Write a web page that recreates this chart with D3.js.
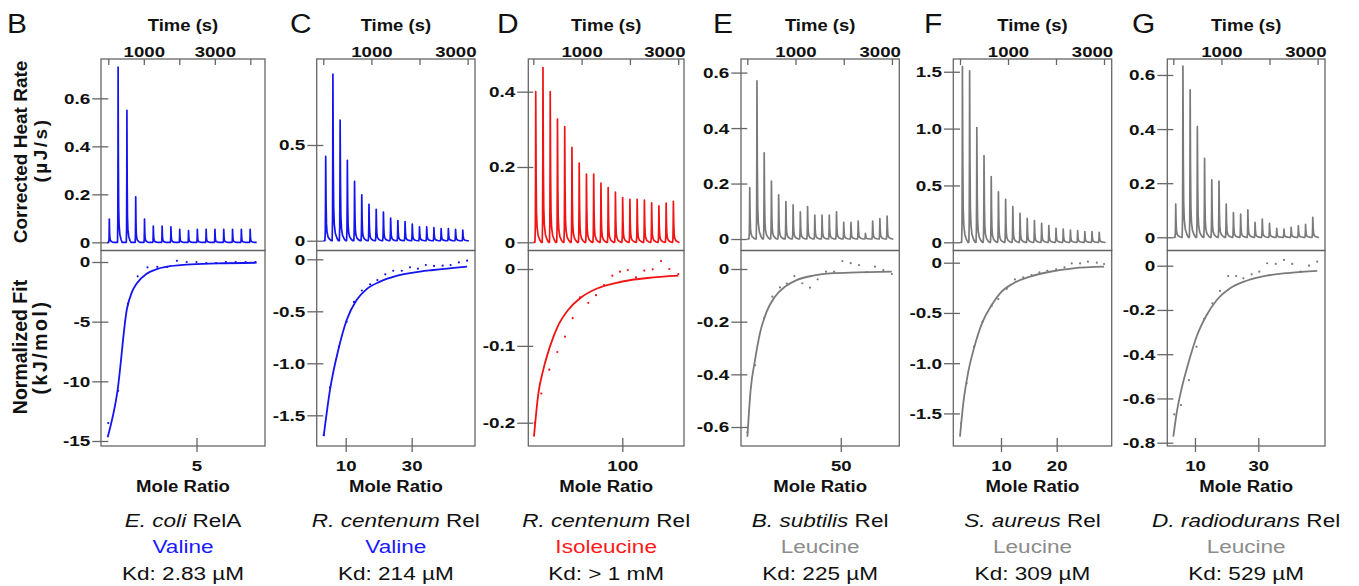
<!DOCTYPE html>
<html>
<head>
<meta charset="utf-8">
<script src="https://cdnjs.cloudflare.com/ajax/libs/d3/7.8.5/d3.min.js"></script>
<title>ITC panels</title>
<style>
  body{ margin:0; background:#fff; }
  svg text{ font-family:"Liberation Sans", Arial, sans-serif; fill:#111; }
</style>
</head>
<body>
<script>
// ---- data ----
var letters  = ["B","C","D","E","F","G"];
var species  = ["E. coli","R. centenum","R. centenum","B. subtilis","S. aureus","D. radiodurans"];
var enzymes  = ["RelA","Rel","Rel","Rel","Rel","Rel"];
var ligands  = ["Valine","Valine","Isoleucine","Leucine","Leucine","Leucine"];
var kds      = ["Kd: 2.83 µM","Kd: 214 µM","Kd: > 1 mM","Kd: 225 µM","Kd: 309 µM","Kd: 529 µM"];
var hues     = ["blue","blue","red","gray","gray","gray"];

// injection times (s)
var injTimesB = [28,276,524,772,1020,1268,1516,1764,2012,2260,2508,2756,3004,3252,3500,3748,3996];
var injTimes  = [50,200,350,500,650,800,950,1100,1250,1400,1550,1700,1850,2000,2150,2300,2450,2600,2750,2900];
var traceSpan = [[-30,4180],[0,3010],[0,3000],[0,3000],[0,3000],[0,3000]];

// peak heights (µJ/s)
var peaksB = [0.097,0.73,0.55,0.19,0.097,0.068,0.068,0.065,0.054,0.049,0.054,0.054,0.054,0.054,0.054,0.054,0.054];
var peaksC = [0.44,0.87,0.63,0.42,0.31,0.24,0.19,0.164,0.15,0.118,0.105,0.1,0.087,0.073,0.073,0.068,0.063,0.063,0.06,0.056];
var peaksD = [0.40,0.464,0.40,0.327,0.307,0.252,0.21,0.181,0.181,0.157,0.145,0.133,0.119,0.114,0.114,0.112,0.105,0.097,0.104,0.109];
var peaksE = [0.185,0.57,0.311,0.209,0.159,0.135,0.123,0.098,0.117,0.086,0.086,0.086,0.098,0.06,0.06,0.065,0.02,0.065,0.074,0.083];
var peaksF = [1.545,1.507,1.009,0.762,0.578,0.443,0.378,0.314,0.255,0.211,0.19,0.167,0.147,0.123,0.117,0.108,0.103,0.094,0.094,0.088];
var peaksG = [0.123,0.633,0.545,0.409,0.292,0.212,0.208,0.123,0.091,0.086,0.101,0.055,0.067,0.052,0.033,0.03,0.037,0.042,0.048,0.074];

// integrated heats (mole ratio, kJ/mol)
var dotXB = [0.5,1,1.5,2,2.5,3,3.5,4,4.5,5,5.5,6,6.5,7,7.5,8];
var dotYB = [-13.5,-10.8,-3.5,-1.2,-0.45,-0.4,-0.4,0.1,0,0,-0.1,-0.1,0,0,0,0];
var dotXC = [3.33,5.24,7.97,10.3,12.5,14.9,17.4,19.6,22,24.4,27,29.5,31.9,34.3,36.8,39.4,41.8,44.3,46.8];
var dotYC = [-1.69,-1.23,-0.84,-0.6,-0.41,-0.30,-0.24,-0.2,-0.144,-0.11,-0.11,-0.077,-0.09,-0.055,-0.064,-0.061,-0.055,-0.03,-0.013];
var dotXD = [8.3,14.9,23.3,31.7,39.8,47.9,55.6,64.3,72.4,80.8,89.5,97.6,105.7,114.4,123.1,131.9,140.7,149.4,158.8];
var dotYD = [-0.2,-0.162,-0.131,-0.108,-0.088,-0.064,-0.037,-0.044,-0.034,-0.021,-0.0087,-0.0035,-0.0013,-0.011,-0.002,-0.0004,0.0104,0,-0.0065];
var dotXE = [3.9,7.65,12.1,16.2,20,23.3,27.1,31,34.8,38.6,42.7,46.7,50.8,54.9,59,62.8,66.9,71,75.2];
var dotYE = [-0.62,-0.365,-0.187,-0.105,-0.07,-0.055,-0.027,-0.054,-0.071,-0.039,-0.01,-0.01,0.03,0.022,0.015,-0.012,0.009,-0.004,-0.019];
var dotXF = [2.82,3.84,5.15,6.71,8.33,9.52,11.02,12.5,14,15.5,16.9,18.3,19.9,21.4,22.7,24.2,25.6,27.2,28.5];
var dotYF = [-1.6,-1.2,-0.836,-0.587,-0.43,-0.362,-0.26,-0.166,-0.146,-0.123,-0.096,-0.08,-0.066,-0.046,-0.007,-0.007,0.01,0,-0.013];
var dotXG = [3.47,5.58,8.1,10.5,12.9,15.5,17.9,20.5,23,25.3,27.9,30.3,32.8,35.5,38.1,40.7,43.4,46,48.6];
var dotYG = [-0.672,-0.63,-0.517,-0.366,-0.24,-0.17,-0.114,-0.047,-0.047,-0.057,-0.039,-0.027,0.011,0.008,0.026,0.008,-0.027,0,0.018];

// fitted curves
var fitXB = [0.468,0.961,1.455,1.7,1.95,2.457,2.97,3.48,4.5,6.03,8.07];
var fitYB = [-14.69,-10.9,-3.9,-2.55,-1.8,-0.98,-0.6,-0.4,-0.22,-0.12,-0.06];
var fitXC = [3.33,5.24,7.87,10.3,13.3,16.3,20.4,25.4,30.5,36.5,46.8];
var fitYC = [-1.70,-1.256,-0.856,-0.583,-0.391,-0.288,-0.215,-0.16,-0.128,-0.103,-0.07];
var fitXD = [7.2,11.8,17,24,32.8,43.3,55.6,74.1,91.6,109.1,126.6,158.8];
var fitYD = [-0.218,-0.162,-0.131,-0.101,-0.073,-0.053,-0.038,-0.025,-0.0187,-0.0143,-0.0117,-0.0087];
var fitXE = [3.9,5.5,7.65,10.1,13.4,17.5,22.5,28.2,36.4,46.3,57.9,75.2];
var fitYE = [-0.637,-0.459,-0.346,-0.244,-0.162,-0.105,-0.067,-0.042,-0.025,-0.016,-0.013,-0.01];
var fitXF = [2.64,3.23,4.13,5.15,6.71,8.33,9.82,12.2,15.2,18.8,23,28.5];
var fitYF = [-1.73,-1.40,-1.085,-0.852,-0.587,-0.421,-0.305,-0.206,-0.139,-0.09,-0.056,-0.04];
var fitXG = [3.16,4.2,5.8,7.9,10.5,13.7,16.9,21.1,26.3,32.6,40,48.6];
var fitYG = [-0.773,-0.667,-0.554,-0.441,-0.321,-0.223,-0.155,-0.102,-0.068,-0.045,-0.032,-0.023];

// ticks
var timeTicksB = [0,1000,2000,3000,4000];
var timeTicks  = [0,1000,2000,3000];
var timeLabels = {1000:"1000", 3000:"3000"};
var heatTicks  = [[0,0.2,0.4,0.6],[0,0.5],[0,0.2,0.4],[0,0.2,0.4,0.6],[0,0.5,1,1.5],[0,0.2,0.4,0.6]];
var heatLabels = [["0","0.2","0.4","0.6"],["0","0.5"],["0","0.2","0.4"],["0","0.2","0.4","0.6"],["0","0.5","1.0","1.5"],["0","0.2","0.4","0.6"]];
var fitTicks   = [[0,-5,-10,-15],[0,-0.5,-1,-1.5],[0,-0.1,-0.2],[0,-0.2,-0.4,-0.6],[0,-0.5,-1,-1.5],[0,-0.2,-0.4,-0.6,-0.8]];
var fitLabels  = [["0","-5","-10","-15"],["0","-0.5","-1.0","-1.5"],["0","-0.1","-0.2"],["0","-0.2","-0.4","-0.6"],["0","-0.5","-1.0","-1.5"],["0","-0.2","-0.4","-0.6","-0.8"]];
var ratioTicks = [[5],[10,30],[100],[50],[10,20],[10,30]];

// ---- layout (pixels / scale windows) ----
var W = 1359, H = 586,
    topY = 59, midY = 250.5, botY = 446;
var layout = [
  {left:101,   right:265,    time:[-205.6,4414], heat:[-0.034,0.764],   ratio:[0.128,8.495], fit:[-15.42,0.964],  lx:7},
  {left:316.7, right:475,    time:[-137,3154],   heat:[-0.051,0.949],   ratio:[1.21,49.2],   fit:[-1.795,0.0846], lx:290},
  {left:528.3, right:684,    time:[-104,3120],   heat:[-0.0218,0.4868], ratio:[1.26,164.8],  fit:[-0.2303,0.0241],lx:497},
  {left:741,   right:899.3,  time:[-131,3153],   heat:[-0.0414,0.649],  ratio:[0.74,78.9],   fit:[-0.6721,0.0703],lx:713},
  {left:953.3, right:1111.7, time:[-140,3160],   heat:[-0.072,1.612],   ratio:[1.44,29.87],  fit:[-1.824,0.1214], lx:924},
  {left:1167.3,right:1325,   time:[-125,3154],   heat:[-0.0488,0.659],  ratio:[1.26,51.06],  fit:[-0.8149,0.0687],lx:1132}
];
var lineCol = {blue:"#1414f0", red:"#f01414", gray:"#7a7a7a"},
    textCol = {blue:"#1a1aff", red:"#ff1a1a", gray:"#8c8c8c"};

var peaks = [peaksB,peaksC,peaksD,peaksE,peaksF,peaksG],
    dotX = [dotXB,dotXC,dotXD,dotXE,dotXF,dotXG], dotY = [dotYB,dotYC,dotYD,dotYE,dotYF,dotYG],
    fitX = [fitXB,fitXC,fitXD,fitXE,fitXF,fitXG], fitY = [fitYB,fitYC,fitYD,fitYE,fitYF,fitYG];

var svg = d3.select("body").append("svg").attr("width", W).attr("height", H);

function txt(g, x, y, s, size, opt){
  opt = opt || {};
  return g.append("text")
    .attr("transform", "translate(" + x + "," + y + ")" + (opt.rot ? " rotate(-90)" : "") + " scale(" + (opt.sx || 1) + ",1)")
    .attr("text-anchor", opt.anchor || "middle")
    .style("font-size", size + "px")
    .style("font-weight", opt.bold ? "bold" : "normal")
    .style("letter-spacing", opt.ls ? opt.ls + "px" : null)
    .style("fill", opt.fill || null)
    .text(s);
}

// peak shape: [time offset (s), fraction of height]
var shape = [[-16,0],[-8,0.12],[-3,0.5],[0,1],[8,0.45],[16,0.2],[28,0.1],[50,0.045],[85,0.015],[115,0]];

function trace(times, hs, span){
  var pts = [[span[0],0]];
  times.forEach(function(t,i){ shape.forEach(function(s){ pts.push([t+s[0], hs[i]*s[1]]); }); });
  pts.push([span[1],0]);
  return pts;
}

function styleLeft(ax, sx){
  ax.select(".domain").remove();
  ax.selectAll(".tick line").attr("stroke","#666").attr("stroke-width",1.3);
  ax.selectAll(".tick text").attr("x", -18/sx).attr("transform","scale(" + sx + ",1)")
    .style("font-size","15.5px").style("font-weight","bold").style("fill","#111");
}

layout.forEach(function(L, i){
  var g = svg.append("g");
  var col = lineCol[hues[i]];
  var xT = d3.scaleLinear().domain(L.time).range([L.left, L.right]),
      yH = d3.scaleLinear().domain(L.heat).range([midY, topY]),
      xR = d3.scaleLinear().domain(L.ratio).range([L.left, L.right]),
      yF = d3.scaleLinear().domain(L.fit).range([botY, midY]);
  var ax0 = xT(0), cx = (L.left + L.right)/2;

  // boxes
  g.append("rect").attr("x", L.left).attr("y", topY).attr("width", L.right-L.left).attr("height", midY-topY)
    .attr("fill","none").attr("stroke","#666").attr("stroke-width",1.3);
  g.append("rect").attr("x", L.left).attr("y", midY).attr("width", L.right-L.left).attr("height", botY-midY)
    .attr("fill","none").attr("stroke","#666").attr("stroke-width",1.3);

  // time axis (top)
  var tt = i === 0 ? timeTicksB : timeTicks;
  var axT = g.append("g").attr("transform","translate(0," + topY + ")")
    .call(d3.axisTop(xT).tickValues(tt).tickSize(-6).tickPadding(2)
      .tickFormat(function(d){ return timeLabels[d] || ""; }));
  axT.select(".domain").remove();
  axT.selectAll(".tick line").attr("stroke","#666").attr("stroke-width",1.3);
  var tsx = 1.2;
  axT.selectAll(".tick text").style("font-size","15.5px").style("font-weight","bold").style("fill","#111")
    .attr("transform","scale(" + tsx + ",1)")
    .each(function(d){
      var w = this.getComputedTextLength()*tsx, xpos = xT(d);
      var shift = Math.min(0, (L.right + 1) - (xpos + w/2));
      d3.select(this).attr("x", shift/tsx);
    });

  // heat axis
  var axH = g.append("g").attr("transform","translate(" + ax0 + ",0)")
    .call(d3.axisLeft(yH).tickValues(heatTicks[i]).tickSize(16).tickPadding(2)
      .tickFormat(function(d,j){ return heatLabels[i][j]; }));
  styleLeft(axH, 1.22);

  // fit axis
  var axF = g.append("g").attr("transform","translate(" + ax0 + ",0)")
    .call(d3.axisLeft(yF).tickValues(fitTicks[i]).tickSize(16).tickPadding(2)
      .tickFormat(function(d,j){ return fitLabels[i][j]; }));
  styleLeft(axF, 1.22);

  // ratio axis
  var axR = g.append("g").attr("transform","translate(0,438)")
    .call(d3.axisBottom(xR).tickValues(ratioTicks[i]).tickSize(14).tickPadding(8).tickFormat(d3.format("d")));
  axR.select(".domain").remove();
  axR.selectAll(".tick line").attr("stroke","#666").attr("stroke-width",1.3);
  axR.selectAll(".tick text").attr("transform","scale(1.2,1)")
    .style("font-size","15.5px").style("font-weight","bold").style("fill","#111");

  // thermogram
  var pts = trace(i === 0 ? injTimesB : injTimes, peaks[i], traceSpan[i]);
  g.append("path").datum(pts)
    .attr("d", d3.line().x(function(d){ return xT(d[0]); }).y(function(d){ return yH(d[1]); }))
    .attr("fill","none").attr("stroke", col).attr("stroke-width",1.7).attr("stroke-linejoin","round");

  // integrated points + fit
  g.selectAll("circle.pt").data(dotX[i]).enter().append("circle")
    .attr("cx", function(d){ return xR(d); })
    .attr("cy", function(d,j){ return yF(dotY[i][j]); })
    .attr("r", 1.1).attr("fill", col);
  g.append("path").datum(fitX[i].map(function(d,j){ return [d, fitY[i][j]]; }))
    .attr("d", d3.line().curve(d3.curveMonotoneX).x(function(d){ return xR(d[0]); }).y(function(d){ return yF(d[1]); }))
    .attr("fill","none").attr("stroke", col).attr("stroke-width",1.8);

  // titles
  txt(g, L.lx, 33, letters[i], 28, {anchor:"start", sx:1.07});
  txt(g, cx, 31, "Time (s)", 16.5, {bold:true, sx:1.12});
  txt(g, cx, 492, "Mole Ratio", 16, {bold:true, sx:1.16});

  var c1 = g.append("text").attr("transform","translate(" + cx + ",527) scale(1.22,1)")
    .attr("text-anchor","middle").style("font-size","18.5px");
  c1.append("tspan").style("font-style","italic").text(species[i]);
  c1.append("tspan").text(" " + enzymes[i]);
  txt(g, cx, 553, ligands[i], 18.5, {sx:1.22, fill:textCol[hues[i]]});
  txt(g, cx, 580, kds[i], 18.5, {sx:1.22});
});

// shared y titles
txt(svg, 27, 152, "Corrected Heat Rate", 19, {bold:true, rot:true});
txt(svg, 47, 150, "(µJ/s)", 19, {bold:true, rot:true, ls:2.5});
txt(svg, 27, 347, "Normalized Fit", 19.5, {bold:true, rot:true});
txt(svg, 47, 347, "(kJ/mol)", 19.5, {bold:true, rot:true, ls:2.5});
</script>
</body>
</html>
